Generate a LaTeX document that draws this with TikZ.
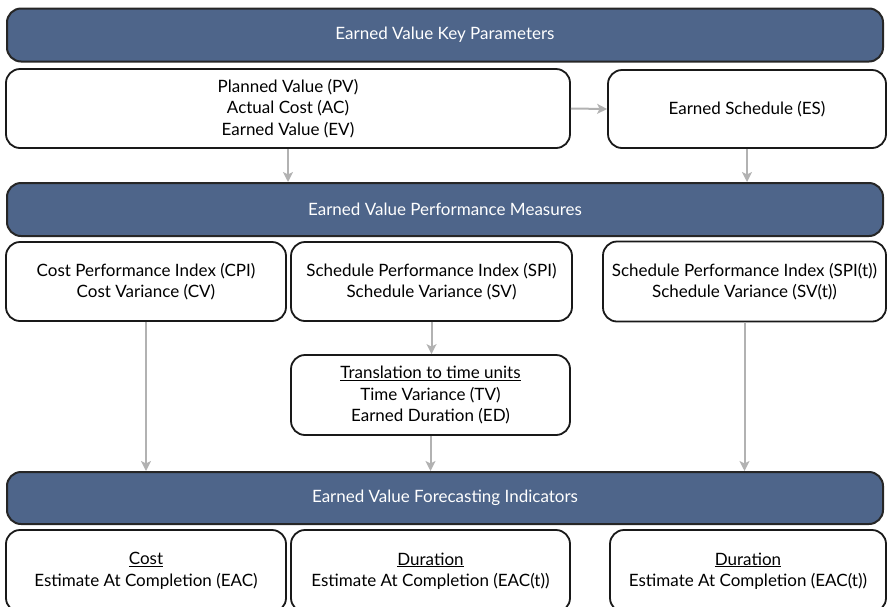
\documentclass[tikz,border=0pt]{standalone}
\usepackage{fontspec}
\setmainfont{Lato}
\usetikzlibrary{arrows.meta}
\definecolor{bandblue}{RGB}{78,101,138}
\definecolor{arrgray}{RGB}{178,178,178}
\tikzset{
  band/.style={draw=black!85, line width=2pt, fill=bandblue, rounded corners=14pt,
    text=white, font=\fontsize{17}{20}\selectfont, inner sep=0pt},
  infobox/.style={draw=black!90, line width=1.8pt, fill=white, rounded corners=14pt,
    align=center, font=\fontsize{17}{21.5}\selectfont, inner sep=0pt},
  arr/.style={draw=arrgray, line width=2pt, -{Stealth[length=10pt,width=10pt,inset=2.5pt]}},
}
\begin{document}
\begin{tikzpicture}[x=1pt,y=-1pt]
\useasboundingbox (0,0) rectangle (888,606);
\clip (0,0) rectangle (888,606);
% headers
\node[band, minimum width=876pt, minimum height=53pt] (h1) at (445,35) {Earned Value Key Parameters};
\node[band, minimum width=876pt, minimum height=53pt] (h2) at (445,209.5) {Earned Value Performance Measures};
\node[band, minimum width=876pt, minimum height=52pt] (h3) at (445,498) {Earned Value Forecasting Indicators};
% row 1
\node[infobox, minimum width=564pt, minimum height=79pt] (b1) at (288,108.5)
  {Planned Value (PV)\\Actual Cost (AC)\\Earned Value (EV)};
\node[infobox, minimum width=278pt, minimum height=78pt] (es) at (747,109)
  {Earned Schedule (ES)};
% row 2
\node[infobox, minimum width=280pt, minimum height=79pt] (cpi) at (146,281.5)
  {Cost Performance Index (CPI)\\Cost Variance (CV)};
\node[infobox, minimum width=281pt, minimum height=79pt] (spi) at (431.5,281.5)
  {Schedule Performance Index (SPI)\\Schedule Variance (SV)};
\node[infobox, minimum width=283pt, minimum height=80pt] (spit) at (744.5,281.5)
  {Schedule Performance Index (SPI(t))\\Schedule Variance (SV(t))};
\node[infobox, minimum width=279pt, minimum height=80pt] (tv) at (430.5,395)
  {\underline{Translation to time units}\\Time Variance (TV)\\Earned Duration (ED)};
% row 3
\node[infobox, minimum width=280pt, minimum height=82pt] (c) at (146,571)
  {\underline{Cost}\\Estimate At Completion (EAC)};
\node[infobox, minimum width=279pt, minimum height=82pt] (d1) at (430.5,571)
  {\underline{Duration}\\Estimate At Completion (EAC(t))};
\node[infobox, minimum width=276pt, minimum height=82pt] (d2) at (748,571)
  {\underline{Duration}\\Estimate At Completion (EAC(t))};
% connectors
\draw[arr] (b1.east) -- (es.west);
\draw[arr] (b1.south) -- (b1.south |- h2.north);
\draw[arr] (es.south) -- (es.south |- h2.north);
\draw[arr] (cpi.south) -- (cpi.south |- h3.north);
\draw[arr] (spi.south) -- (spi.south |- tv.north);
\draw[arr] (tv.south) -- (tv.south |- h3.north);
\draw[arr] (spit.south) -- (spit.south |- h3.north);
\end{tikzpicture}
\end{document}
